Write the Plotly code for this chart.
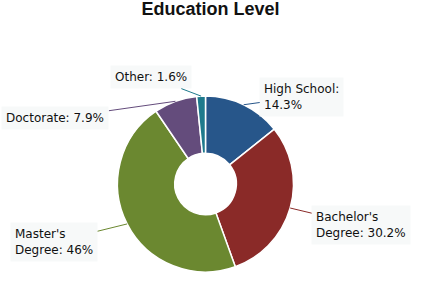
import math
import plotly.graph_objects as go

categories = ["High School", "Bachelor's Degree", "Master's Degree", "Doctorate", "Other"]
values = [14.3, 30.2, 46.0, 7.9, 1.6]
label_texts = ["High School:<br>14.3%", "Bachelor's<br>Degree: 30.2%", "Master's<br>Degree: 46%",
               "Doctorate: 7.9%", "Other: 1.6%"]
colors = ["#27568a", "#8a2a28", "#6b8830", "#644c7c", "#1e7a8c"]

W, H = 421, 283
cx_px, cy_px, r_px = 205.5, 184, 88
# label offsets (pixels) from slice edge
offsets = [(58, -8), (71, 17), (-73, 18), (-120, 17), (-50, -19)]

fig = go.Figure(go.Pie(
    labels=categories, values=values, sort=False, direction="clockwise", rotation=0,
    hole=0.35, textinfo="none", hoverinfo="label+percent",
    marker=dict(colors=colors, line=dict(color="white", width=1.5)),
    domain=dict(x=[(cx_px - r_px) / W, (cx_px + r_px) / W],
                y=[1 - (cy_px + r_px) / H, 1 - (cy_px - r_px) / H]),
    showlegend=False,
))

total = sum(values)
cum = 0
anns = []
for v, txt, col, (ax, ay) in zip(values, label_texts, colors, offsets):
    mid = (cum + v / 2) / total * 2 * math.pi
    cum += v
    xp = (cx_px + r_px * math.sin(mid)) / W
    yp = 1 - (cy_px - r_px * math.cos(mid)) / H
    anns.append(dict(
        x=xp, y=yp, xref="paper", yref="paper", text=txt, align="left",
        showarrow=True, arrowhead=0, arrowwidth=1, arrowcolor=col,
        ax=ax, ay=ay, font=dict(family="DejaVu Sans", size=12, color="#111111"),
        bgcolor="#f7f9f9", borderpad=4,
    ))

fig.update_layout(
    width=W, height=H, margin=dict(l=0, r=0, t=0, b=0),
    paper_bgcolor="white", plot_bgcolor="white",
    title=dict(text="<b>Education Level</b>", x=0.5, y=0.99, xanchor="center", yanchor="top",
               font=dict(family="Liberation Sans, Arial", size=18, color="#111111")),
    annotations=anns,
)
fig.write_html("out.html")
